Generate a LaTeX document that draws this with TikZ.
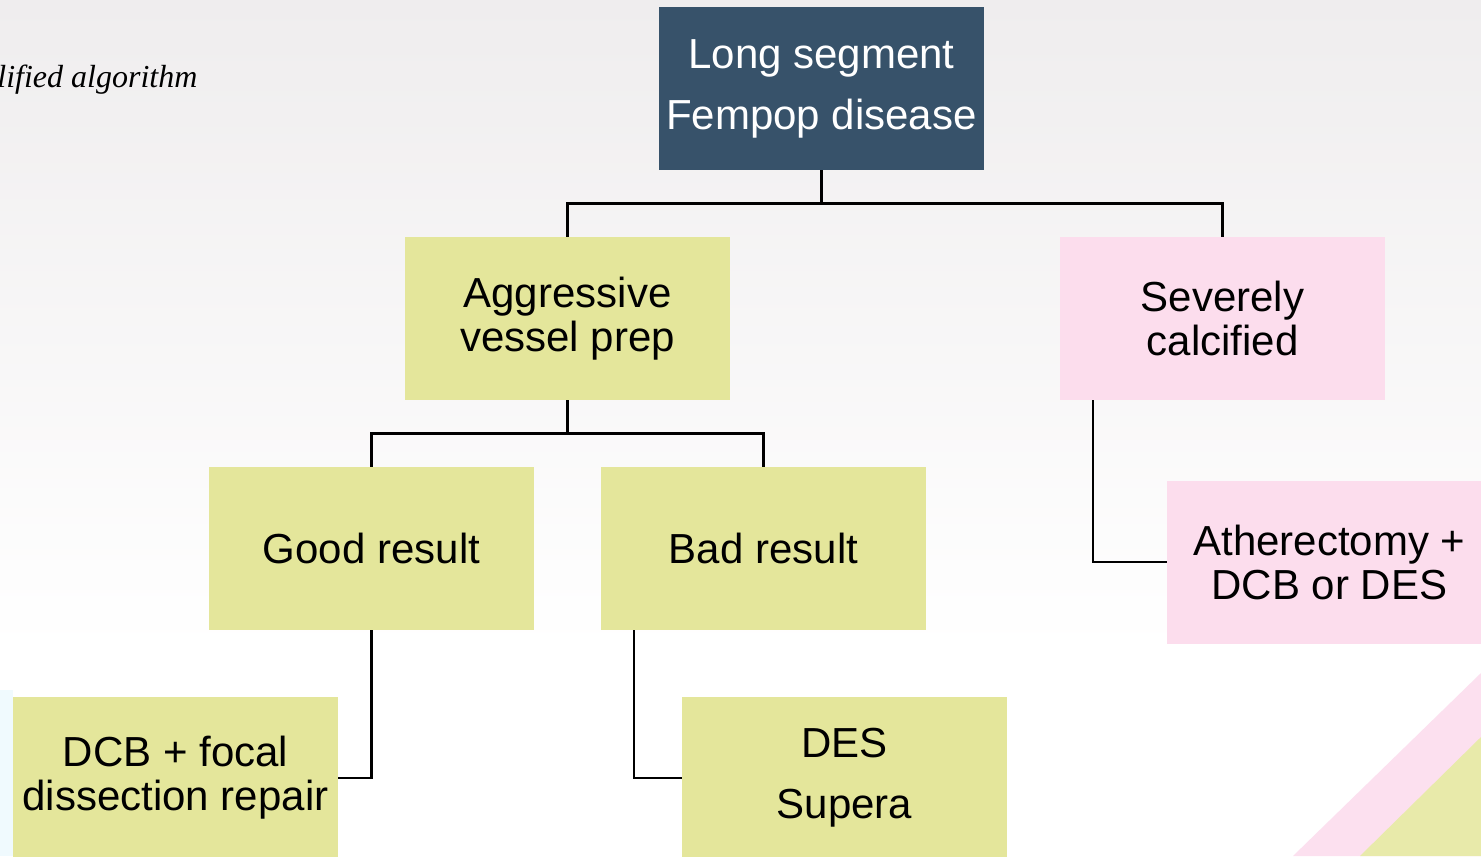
\documentclass[tikz,border=0pt]{standalone}
\usepackage{fontspec}
\setmainfont{Liberation Sans}
\newfontfamily\titlefont{Liberation Serif}
\definecolor{boxdark}{HTML}{37526A}
\definecolor{boxyellow}{HTML}{E4E69B}
\definecolor{boxpink}{HTML}{FCDDED}
\definecolor{bgtop}{HTML}{EFEDEE}

\begin{document}
\begin{tikzpicture}[x=0.5pt,y=-0.5pt,
  box/.style={minimum width=162.5pt,minimum height=81.5pt,inner sep=0pt,align=center,
    font=\fontsize{21}{22}\selectfont},
  wide/.style={font=\fontsize{21}{30.5}\selectfont},
  link/.style={line width=1.1pt}]

\useasboundingbox (0,0) rectangle (1481,856);
\clip (0,0) rectangle (1481,856);

\begin{scope}
\shade[top color=bgtop,bottom color=white] (0,0) rectangle (1481,650);
\fill[white] (0,650) rectangle (1481,856);
\fill[cyan!6] (0,690) -- (13,690) -- (13,856) -- (0,856) -- cycle;
\fill[boxpink!90] (1293,856) -- (1481,673) -- (1481,856) -- cycle;
\fill[boxyellow!85] (1360,856) -- (1481,737) -- (1481,856) -- cycle;
\node[anchor=base west,inner sep=0pt,font=\titlefont\itshape\fontsize{16}{18}\selectfont] (title) at (-3,88) {lified algorithm};
\end{scope}

\node[box,wide,fill=boxdark,text=white] (top) at (821.5,88.5) {Long segment\\Fempop disease};
\node[box,fill=boxyellow] (prep) at (567.5,318.5) {Aggressive\\vessel prep};
\node[box,fill=boxpink] (calc) at (1222.5,318.5) {Severely\\calcified};
\node[box,fill=boxyellow] (good) at (371.5,548.5) {Good result};
\node[box,fill=boxyellow] (bad) at (763.5,548.5) {Bad result};
\node[box,fill=boxpink] (ather) at (1329.5,562) {Atherectomy +\\DCB or DES};
\node[box,fill=boxyellow] (dcb) at (175.5,778) {DCB + focal\\dissection repair};
\node[box,wide,fill=boxyellow] (des) at (844.5,778) {DES\\Supera};

\draw[link] (top.south) -- ++(0,33) -| (prep.north);
\draw[link] (top.south) ++(0,33) -| (calc.north);
\draw[link] (prep.south) -- ++(0,33) -| (good.north);
\draw[link] (prep.south) ++(0,33) -| (bad.north);
\draw[link] ([xshift=16.5pt]calc.south west) |- (ather.west);
\draw[link] (good.south) |- (dcb.east);
\draw[link] ([xshift=16.5pt]bad.south west) |- (des.west);

\end{tikzpicture}
\end{document}
